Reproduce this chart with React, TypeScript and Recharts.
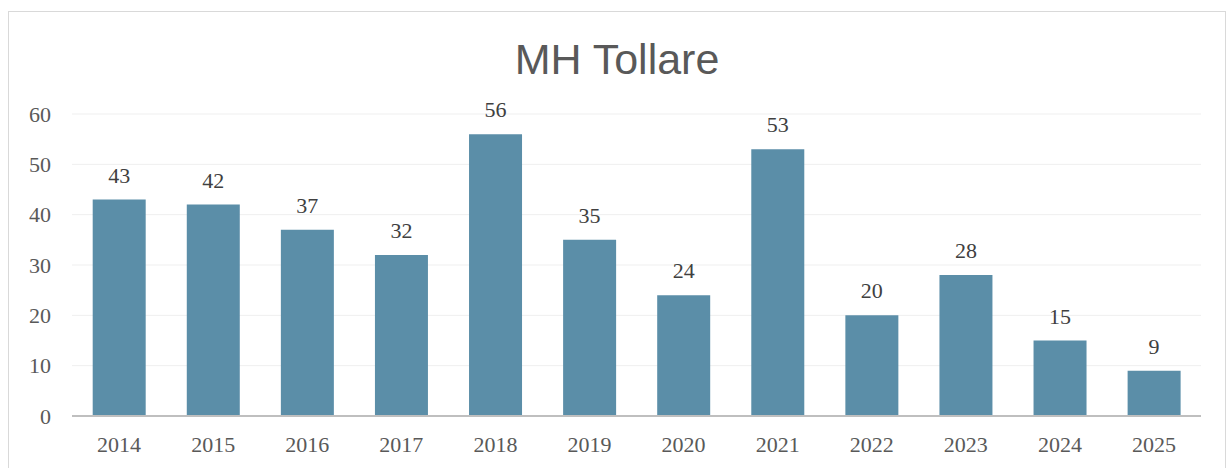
import { BarChart, Bar, XAxis, YAxis, CartesianGrid, LabelList } from "recharts"

const years = ["2014", "2015", "2016", "2017", "2018", "2019", "2020", "2021", "2022", "2023", "2024", "2025"]
const counts = [43, 42, 37, 32, 56, 35, 24, 53, 20, 28, 15, 9]
const yTicks = [0, 10, 20, 30, 40, 50, 60]

const chartData = years.map((year, i) => ({ year, count: counts[i] }))

const serif = "'Liberation Serif', 'Times New Roman', serif"

export default function App() {
  return (
    <div
      style={{
        position: "absolute",
        left: 8,
        top: 11,
        width: 1218,
        height: 470,
        border: "1px solid #d9d9d9",
        boxSizing: "border-box",
        background: "#fff",
      }}
    >
      <div
        style={{
          position: "absolute",
          left: 0,
          right: 0,
          top: 22,
          textAlign: "center",
          fontFamily: "'Liberation Sans', Arial, sans-serif",
          fontSize: 43,
          color: "#595959",
          lineHeight: "50px",
        }}
      >
        MH Tollare
      </div>
      <BarChart
        width={1216}
        height={456}
        data={chartData}
        margin={{ top: 102, right: 24, bottom: 0, left: 0 }}
        barCategoryGap="22%"
      >
        <CartesianGrid vertical={false} stroke="#efefef" strokeWidth={1} />
        <XAxis
          dataKey="year"
          height={52}
          tickLine={false}
          axisLine={{ stroke: "#bfbfbf", strokeWidth: 2 }}
          tick={{ fill: "#595959", fontSize: 22, fontFamily: serif }}
          tickMargin={14}
        />
        <YAxis
          width={63}
          domain={[0, 60]}
          ticks={yTicks}
          interval={0}
          tickLine={false}
          axisLine={false}
          tickSize={0}
          tickMargin={21}
          tick={{ fill: "#595959", fontSize: 22, fontFamily: serif }}
        />
        <Bar dataKey="count" fill="#5b8ea8" isAnimationActive={false}>
          <LabelList
            dataKey="count"
            position="top"
            offset={17}
            fill="#404040"
            fontSize={22}
            fontFamily={serif}
          />
        </Bar>
      </BarChart>
    </div>
  )
}
